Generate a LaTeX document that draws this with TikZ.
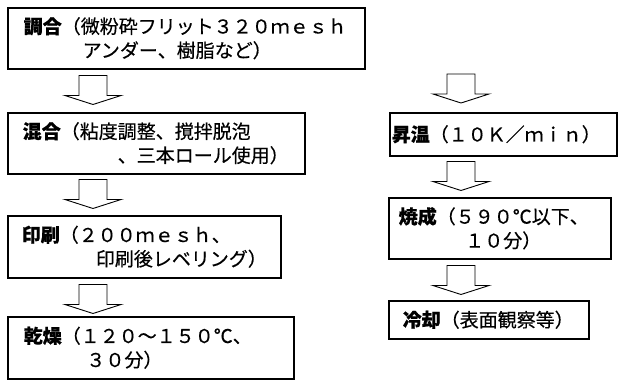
\documentclass[tikz,border=0pt]{standalone}
\usepackage{fontspec}
\setmainfont{Noto Sans CJK JP}[FakeBold=0.4]
\usetikzlibrary{calc}
\tikzset{
  stepbox/.style={rectangle,draw=black,line width=1.5pt,anchor=north west,
                  align=left,inner ysep=0pt,
                  font=\fontsize{19}{24}\selectfont},
  blkline/.style={draw=black,line width=0.9pt,fill=white,line join=miter},
  blkarr/.pic={\path[blkline] (-14,0) -- (-14,20) -- (-28,20) -- (0,29)
                -- (28,20) -- (14,20) -- (14,0) -- cycle;},
}

\begin{document}
\begin{tikzpicture}[x=1pt,y=-1pt]
  \useasboundingbox (0,0) rectangle (618,380);

  % left column
  \node[stepbox,minimum width=357,minimum height=61,inner xsep=16,text width=325]
    (PREP) at (7,7){{\bfseries 調合}（微粉砕フリット３２０ｍｅｓｈ\\
                    \hspace*{3.1em}アンダー、樹脂など）};
  \node[stepbox,minimum width=297,minimum height=61,inner xsep=15,text width=267]
    (MIX) at (7,112){{\bfseries 混合}（粘度調整、撹拌脱泡\\
                     \hspace*{5em}、三本ロール使用）};
  \node[stepbox,minimum width=273,minimum height=62,inner xsep=14,text width=245]
    (PRT) at (7,215){{\bfseries 印刷}（２００ｍｅｓｈ、\\
                     \hspace*{3.9em}印刷後レベリング）};
  \node[stepbox,minimum width=286,minimum height=62,inner xsep=16,text width=254]
    (DRY) at (7,316){{\bfseries 乾燥}（１２０～１５０℃、\\
                     \hspace*{3.3em}３０分）};

  % right column
  \node[stepbox,minimum width=227,minimum height=43,inner xsep=2,text width=223]
    (HEAT) at (389,112){{\bfseries 昇温}（１０Ｋ／ｍｉｎ）};
  \node[stepbox,minimum width=222,minimum height=61,inner xsep=10,text width=202]
    (FIRE) at (388,197){{\bfseries 焼成}（５９０℃以下、\\
                        \hspace*{3.5em}１０分）};
  \node[stepbox,minimum width=200,minimum height=38,inner xsep=14,text width=172]
    (COOL) at (388,300){{\bfseries 冷却}（表面観察等）};

  % block arrows
  \coordinate (LC) at (93,0);
  \coordinate (RC) at (461,0);
  \coordinate (A1) at ($(PREP.south -| LC)+(0,6)$);
  \coordinate (A2) at ($(MIX.south -| LC)+(0,5)$);
  \coordinate (A3) at ($(PRT.south -| LC)+(0,6)$);
  \coordinate (A4) at ($(HEAT.north -| RC)+(0,-38)$);
  \coordinate (A5) at ($(HEAT.south -| RC)+(0,5)$);
  \coordinate (A6) at ($(FIRE.south -| RC)+(0,6)$);
  \pic at (A1) {blkarr};
  \pic at (A2) {blkarr};
  \pic at (A3) {blkarr};
  \pic at (A4) {blkarr};
  \pic at (A5) {blkarr};
  \pic at (A6) {blkarr};

\end{tikzpicture}
\end{document}
